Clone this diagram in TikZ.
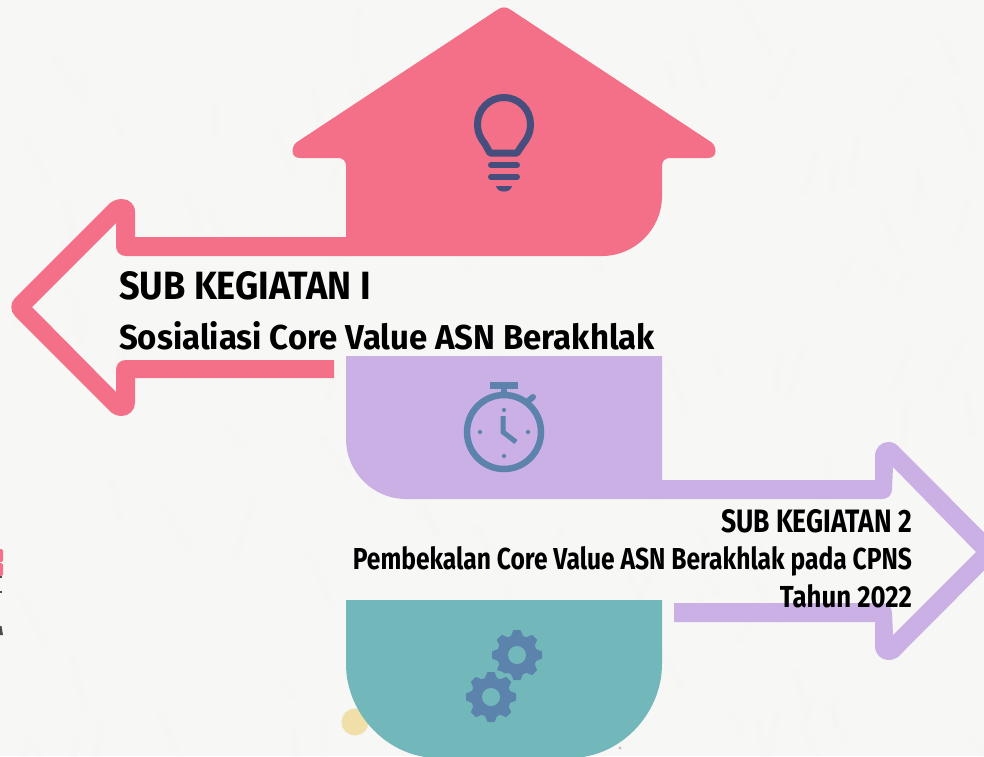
\documentclass[tikz,border=0pt]{standalone}
\usepackage{graphicx}
\usepackage{fontspec}
\setmainfont{Fira Sans}
\definecolor{paper}{HTML}{F7F7F5}
\definecolor{pinkc}{HTML}{F37088}
\definecolor{purplec}{HTML}{CBB0E6}
\definecolor{tealc}{HTML}{72B8BB}
\definecolor{bulbc}{HTML}{454E7C}
\definecolor{iconc}{HTML}{5B83AB}
\definecolor{dotc}{HTML}{F0DFA8}
\newcommand{\fitted}[3]{\resizebox{#1pt}{#2pt}{\bfseries #3}}
\newcommand{\cogwheel}[2]{%
  \fill[iconc] (#1,#2) circle[radius=20];
  \foreach \a in {0,45,...,315}{
    \fill[iconc,shift={(#1,#2)},rotate=\a] (-6,0) -- (-6,-19) -- (-3.5,-25) -- (3.5,-25) -- (6,-19) -- (6,0) -- cycle;
  }
  \fill[tealc] (#1,#2) circle[radius=9];
}
\tikzset{
  lbl/.style={inner sep=0pt,outer sep=0pt},
  bulbline/.style={bulbc,line width=6pt,line cap=round},
  iconline/.style={iconc,line width=5pt},
}
\begin{document}
\begin{tikzpicture}[x=1pt,y=-1pt]
\useasboundingbox (0,0) rectangle (984,756);
\clip (0,0) rectangle (984,756);
\fill[paper] (0,0) rectangle (984,756);
% faint paper mottling
\pgfmathsetseed{7}
\foreach \i in {1,...,110}{
  \pgfmathsetmacro{\tx}{random(0,984)}
  \pgfmathsetmacro{\ty}{random(0,756)}
  \pgfmathsetmacro{\tl}{random(20,60)}
  \pgfmathsetmacro{\ta}{random(50,120)}
  \draw[black!6,opacity=.12,line width=7pt,line cap=round] (\tx,\ty) -- ++(\ta:\tl);
}
% remnants at the left edge
\fill[pinkc,rounded corners=1.5pt] (-5,549) rectangle (3,562);
\fill[pinkc,rounded corners=1.5pt] (-5,563) rectangle (3,576);
\fill[black!70] (0,576) rectangle (1.5,578);
\fill[black!70] (0,591) rectangle (1.5,593);
\fill[black!70] (0,626) -- (1.5,626) -- (3,635) -- (0,635) -- cycle;
% decoration
\filldraw[fill=dotc,draw=dotc,line width=1.5pt,densely dotted] (355,722) circle[radius=13];
\fill[black!25] (620,748) circle[radius=1.7];
% pink house
\fill[pinkc] (497,10) .. controls (501,6.5) and (507,6.5) .. (511,10) -- (711,142) .. controls (717,146) and (718,158) .. (708,158) -- (670,158) .. controls (665,158) and (662,161) .. (662,166) -- (662,196) .. controls (662,229) and (635,256) .. (602,256) -- (346,256) -- (346,166) .. controls (346,161) and (343,158) .. (338,158) -- (300,158) .. controls (290,158) and (291,146) .. (297,142) -- cycle;
% pink arrow
\fill[pinkc] (347,237) -- (135,237) -- (135,212) .. controls (135,204) and (129,199) .. (122,199) .. controls (117,199) and (112,201) .. (109,204) -- (15,298) .. controls (10,303) and (10,311) .. (15,316) -- (109,410) .. controls (112,414) and (117,416) .. (122,416) .. controls (129,416) and (135,410) .. (135,403) -- (135,378) -- (334,378) -- (334,360) -- (126,360) .. controls (120,360) and (116,364) .. (116,370) -- (116,392) -- (32,307) -- (116,223) -- (116,246) .. controls (116,252) and (120,256) .. (126,256) -- (347,256) -- cycle;
% purple block with arrow
\fill[purplec] (346,356) -- (662,356) -- (662,480) -- (875,480) -- (875,456) .. controls (875,448) and (881,442) .. (888,442) .. controls (892,442) and (895,443) .. (898,446) -- (1003,551.5) -- (898,657) .. controls (895,659) and (892,660) .. (888,660) .. controls (881,660) and (875,654) .. (875,646) -- (875,622) -- (674,622) -- (674,603) -- (882,603) .. controls (888,603) and (892,607) .. (892,613) -- (893,635) -- (976,552) -- (893,467) -- (892,489) .. controls (892,495) and (888,499) .. (882,499) -- (406,499) .. controls (373,499) and (346,472) .. (346,439) -- cycle;
% teal block
\fill[tealc] (346,600) -- (662,600) -- (662,664) .. controls (662,714) and (620,758) .. (570,758) -- (438,758) .. controls (388,758) and (346,714) .. (346,664) -- cycle;
% bulb icon
\draw[bulbc,line width=7pt,line join=round] (490,153) -- (485,144) .. controls (481,139) and (477.5,133) .. (477.5,124) .. controls (477.5,109.4) and (489.4,97.5) .. (504,97.5) .. controls (518.6,97.5) and (530.5,109.4) .. (530.5,124) .. controls (530.5,133) and (527,139) .. (523,144) -- (517,153) -- cycle;
\draw[bulbline] (491,165) -- (517,165);
\draw[bulbline] (491,177) -- (517,177);
\fill[bulbc] (496,186) -- (512,186) .. controls (511,190) and (508,191.5) .. (504,191.5) .. controls (500,191.5) and (497,190) .. (496,186) -- cycle;
% stopwatch icon
\draw[iconc,line width=6.5pt] (504,432) circle[radius=37];
\fill[iconc] (490,382) rectangle (518,389);
\fill[iconc] (501,388) rectangle (507,395);
\draw[iconc,line width=6pt,line cap=round] (527,402) -- (533,397);
\foreach \px/\py in {504/410,480/432,528/432,504/456}{
  \fill[iconc] (\px,\py) circle[radius=2.1];
}
\draw[iconline,line join=miter] (503,416) -- (503,432) -- (516,442);
% gears
\cogwheel{517}{655}
\fill[tealc] (491,697) circle[radius=27.5];
\cogwheel{491}{697}
% texts
\node[lbl,anchor=base west] (sub1) at (119,299) {\fitted{252}{28}{SUB KEGIATAN I}};
\node[lbl,anchor=base west] (desc1) at (119,349) {\fitted{536}{28}{Sosialiasi Core Value ASN Berakhlak}};
\node[lbl,anchor=base east] (sub2) at (912,532) {\fitted{191}{23}{SUB KEGIATAN 2}};
\node[lbl,anchor=base east] (desc2) at (912,569) {\fitted{559}{23}{Pembekalan Core Value ASN Berakhlak pada CPNS}};
\node[lbl,anchor=base east] (year2) at (912,607) {\fitted{132}{23}{Tahun 2022}};
\end{tikzpicture}
\end{document}
